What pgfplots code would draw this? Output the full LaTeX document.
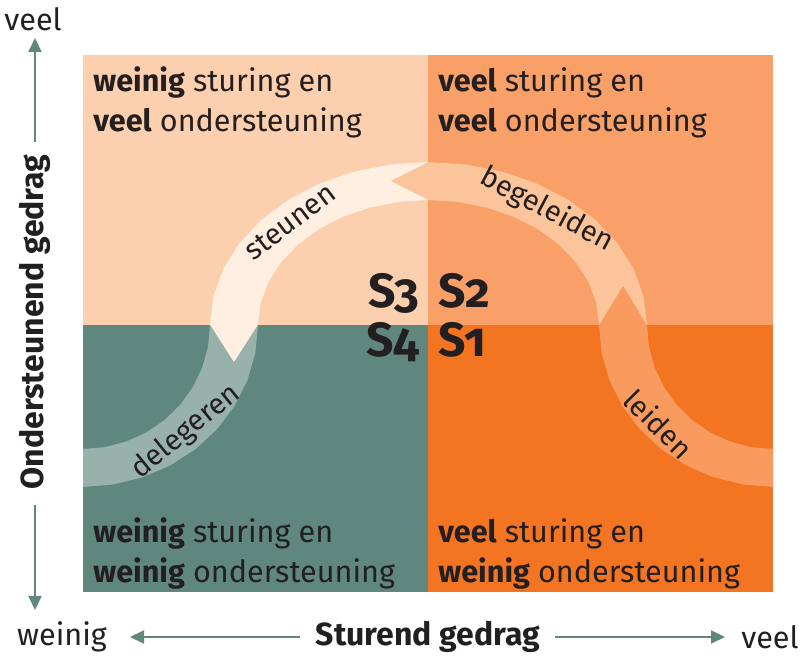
\documentclass[border=0pt]{standalone}
\usepackage{pgfplots}
\pgfplotsset{compat=1.18}
\usepackage{fontspec}
\setmainfont{Fira Sans}
\newfontfamily\sfont[Numbers=OldStyle]{Fira Sans}
\usetikzlibrary{arrows.meta}
\definecolor{tl}{HTML}{FCCFAE}
\definecolor{tr}{HTML}{F9A068}
\definecolor{bl}{HTML}{5F877E}
\definecolor{br}{HTML}{F37421}
\definecolor{bsteun}{HTML}{FFEFE1}
\definecolor{bbeg}{HTML}{FCC49A}
\definecolor{bleid}{HTML}{F99B5E}
\definecolor{bdel}{HTML}{98B1AB}
\definecolor{txt}{HTML}{231F20}
\definecolor{arr}{HTML}{5F877E}
\begin{document}
\begin{tikzpicture}
\begin{axis}[width=401.5pt,height=328pt,scale only axis,
  xmin=0,xmax=803,ymin=0,ymax=656,y dir=reverse,
  hide axis,clip=false]
% quadrants
\addplot[fill=tl,draw=none] coordinates {(83,55) (428.5,55) (428.5,325.5) (83,325.5)};
\addplot[fill=tr,draw=none] coordinates {(428,55) (773,55) (773,325.5) (428,325.5)};
\addplot[fill=bl,draw=none] coordinates {(83,325) (428.5,325) (428.5,592) (83,592)};
\addplot[fill=br,draw=none] coordinates {(428,325) (773,325) (773,592) (428,592)};
% delegeren band
\addplot[fill=bdel,draw=none] coordinates {
 (83,487) (113.4,484.5) (142.9,477.2) (170.5,465.3) (195.5,449.1) (217.1,429.1) (234.6,406) (247.4,380.4) (255.3,353.1) (258,325)
 (210,325) (208.1,346.5) (202.3,367.4) (193,387) (180.3,404.7) (164.6,420) (146.5,432.4) (126.4,441.5) (105.1,447.1) (83,449)};
% steunen band
\addplot[fill=bsteun,draw=none] coordinates {
 (428,162) (390.1,164.5) (353.4,171.8) (319,183.8) (287.9,200.1) (261,220.2) (239.2,243.5) (223.1,269.3) (213.3,296.7) (210,325)
 (258,325) (260.6,303.3) (268.3,282.2) (280.8,262.5) (297.8,244.7) (318.7,229.2) (343,216.7) (369.9,207.5) (398.5,201.9) (428,200)};
\addplot[fill=bsteun,draw=none] coordinates {(210,324.5) (258,324.5) (234,362)};
% begeleiden band
\addplot[fill=bbeg,draw=none] coordinates {
 (428,162) (466.0,164.5) (502.9,171.8) (537.5,183.8) (568.8,200.1) (595.8,220.2) (617.7,243.5) (633.8,269.3) (643.7,296.7) (647,325)
 (599,325) (596.4,303.3) (588.7,282.2) (576.1,262.5) (559,244.7) (537.9,229.2) (513.5,216.7) (486.5,207.5) (457.7,201.9) (428,200)};
\addplot[fill=bbeg,draw=none] coordinates {(428.5,162) (428.5,200) (391,181)};
% leiden band
\addplot[fill=bleid,draw=none] coordinates {
 (773,487) (742.8,484.5) (713.5,477.2) (686,465.3) (661.2,449.1) (639.7,429.1) (622.3,406) (609.5,380.4) (601.6,353.1) (599,325)
 (647,325) (648.9,346.5) (654.6,367.4) (663.9,387) (676.5,404.7) (692,420) (710,432.4) (729.9,441.5) (751.1,447.1) (773,449)};
\addplot[fill=bleid,draw=none] coordinates {(599,325.5) (647,325.5) (623,286)};
% band labels
\tikzset{bt/.style={text=txt,inner sep=0pt,font=\fontsize{14.5}{16}\selectfont}}
\node[bt,rotate=37] at (axis cs:290,222) {steunen};
\node[bt,rotate=-28] at (axis cs:547,210) {begeleiden};
\node[bt,rotate=-45] at (axis cs:659,424) {leiden};
\node[bt,rotate=39] at (axis cs:186,432) {delegeren};
% S labels
\tikzset{sl/.style={text=txt,inner sep=0pt,font=\sfont\bfseries\fontsize{24}{26}\selectfont}}
\node[sl,anchor=base east] at (axis cs:420,308) {S3};
\node[sl,anchor=base west] at (axis cs:438,308) {S2};
\node[sl,anchor=base east] at (axis cs:420,357) {S4};
\node[sl,anchor=base west] at (axis cs:438,357) {S1};
% quadrant texts
\tikzset{qt/.style={text=txt,anchor=base west,inner sep=0pt,font=\fontsize{15.3}{17}\selectfont}}
\node[qt] at (axis cs:93,92) {\textbf{weinig} sturing en};
\node[qt] at (axis cs:93,132) {\textbf{veel} ondersteuning};
\node[qt] at (axis cs:438,92) {\textbf{veel} sturing en};
\node[qt] at (axis cs:438,132) {\textbf{veel} ondersteuning};
\node[qt] at (axis cs:93,543) {\textbf{weinig} sturing en};
\node[qt] at (axis cs:93,583) {\textbf{weinig} ondersteuning};
\node[qt] at (axis cs:438,543) {\textbf{veel} sturing en};
\node[qt] at (axis cs:438,583) {\textbf{weinig} ondersteuning};
% axis labels and arrows
\addplot[draw=arr,line width=1pt,-{Triangle[length=7pt,width=6.5pt]}] coordinates {(35,142) (35,38)};
\addplot[draw=arr,line width=1pt,-{Triangle[length=7pt,width=6.5pt]}] coordinates {(35,505) (35,610)};
\addplot[draw=arr,line width=1pt,-{Triangle[length=7pt,width=6.5pt]}] coordinates {(300,637) (130,637)};
\addplot[draw=arr,line width=1pt,-{Triangle[length=7pt,width=6.5pt]}] coordinates {(555,637) (725,637)};
\node[text=txt,inner sep=0pt,font=\bfseries\fontsize{16}{18}\selectfont,rotate=90] at (axis cs:35,322) {Ondersteunend gedrag};
\node[text=txt,inner sep=0pt,font=\bfseries\fontsize{16}{18}\selectfont] at (axis cs:428,637) {Sturend gedrag};
\node[text=txt,inner sep=0pt,font=\fontsize{15.3}{17}\selectfont] at (axis cs:33,19) {veel};
\node[text=txt,inner sep=0pt,font=\fontsize{15.3}{17}\selectfont] at (axis cs:62,637) {weinig};
\node[text=txt,inner sep=0pt,anchor=east,font=\fontsize{15.3}{17}\selectfont] at (axis cs:799,637) {veel};
\end{axis}
\pgfresetboundingbox
\useasboundingbox (current axis.south west) rectangle (current axis.north east);
\end{tikzpicture}
\end{document}
